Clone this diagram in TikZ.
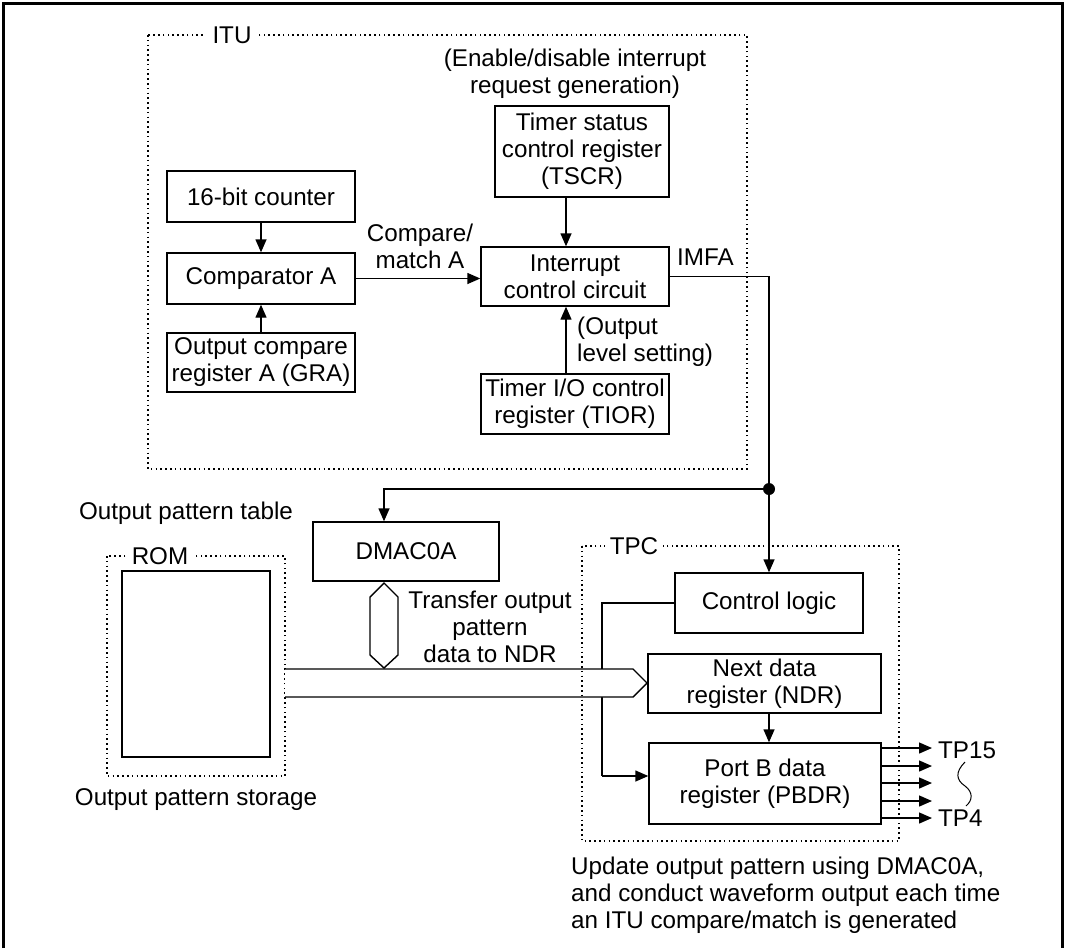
\documentclass[tikz,border=0pt]{standalone}
\usepackage{fontspec}
\setmainfont{Liberation Sans}
\usetikzlibrary{arrows.meta}
\begin{document}
\begin{tikzpicture}[x=1pt,y=-1pt,
  every node/.style={font=\fontsize{24.2}{27}\selectfont, inner sep=0pt},
  box/.style={draw, line width=1.4pt, align=center, fill=white},
  dotbox/.style={draw, line width=1.4pt, dash pattern=on 1.6pt off 3.2pt},
  lbl/.style={fill=white, inner xsep=5pt},
  conn/.style={line width=1.4pt},
  arr/.style={conn, -{Triangle[length=13pt,width=11pt]}},
  txt/.style={align=center}]
\useasboundingbox (0,0) rectangle (1065,948);
% outer frame
\draw[line width=3pt] (3,948) -- (3,3) -- (1062,3) -- (1062,948);

% ITU region
\draw[dotbox] (148,35) rectangle (747,469);
\node[lbl, inner xsep=8pt] (itul) at (232,35) {ITU};
\node[txt] (entxt) at (575,73.5) {(Enable/disable interrupt\\request generation)};
\node[box, minimum width=174pt, minimum height=91pt] (tscr) at (582,151.5) {Timer status\\control register\\(TSCR)};
\node[box, minimum width=188pt, minimum height=51pt] (cnt) at (261,196.5) {16-bit counter};
\node[box, minimum width=188pt, minimum height=51pt] (cmp) at (261,278.5) {Comparator A};
\node[box, minimum width=188pt, minimum height=59pt] (gra) at (261,362.5) {Output compare\\register A (GRA)};
\node[box, minimum width=188pt, minimum height=59pt] (icc) at (575,276.5) {Interrupt\\control circuit};
\node[box, minimum width=188pt, minimum height=60pt] (tior) at (575,404) {Timer I/O control\\register (TIOR)};
\node[txt] (cmtxt) at (420,246) {Compare/\\match A};
\node[anchor=west] (imfa) at (677,257) {IMFA};
\node[anchor=west, align=left] (oltxt) at (577,341.5) {(Output\\level setting)};

\coordinate (ax) at (566,0);
\draw[arr] (cnt.south) -- (cmp.north);
\draw[arr] (gra.north) -- (cmp.south);
\draw[arr] (cmp.east) -- (cmp.east -| icc.west);
\draw[arr] (tscr.south -| ax) -- (icc.north -| ax);
\draw[arr] (tior.north -| ax) -- (icc.south -| ax);

% junction
\coordinate (jn) at (769,489);
\coordinate (dx) at (384,489);
\draw[conn] (icc.east) -| (jn);
\fill (jn) circle (6pt);

% DMAC and ROM
\node (optab) at (186,513) {Output pattern table};
\node[box, minimum width=186pt, minimum height=59pt] (dmac) at (406,551.5) {DMAC0A};
\draw[arr] (jn) -- (dx) -- (dmac.north -| dx);
\draw[dotbox] (107,556) rectangle (285,776);
\node[lbl] (roml) at (160,556) {ROM};
\draw[line width=1.4pt] (122,571) rectangle (270,757);
\node (opst) at (196,800) {Output pattern storage};
\node[txt] (trtxt) at (490,627) {Transfer output\\pattern\\data to NDR};

% TPC region
\node[box, minimum width=188pt, minimum height=60pt] (ctl) at (769,603) {Control logic};
\draw[arr] (jn) -- (ctl.north);
\coordinate (c1) at (602,611);
\coordinate (c2) at (602,776);
\draw[conn] (ctl.west) -- (ctl.west -| c1) -- (c2);
% bus arrows
\draw[line width=1.4pt, fill=white] (285,669) -- (633,669) -- (647,683) -- (633,697) -- (285,697);
\draw[line width=1.4pt, fill=white] (384,583) -- (398,597) -- (398,655) -- (384,668) -- (370,655) -- (370,597) -- cycle;
\node[box, minimum width=233pt, minimum height=59pt] (ndr) at (764.5,683.5) {Next data\\register (NDR)};
\node[box, minimum width=232pt, minimum height=81pt] (pbdr) at (765,783.5) {Port B data\\register (PBDR)};
\draw[arr] (c2) -- (c2 -| pbdr.west);
\draw[arr] (ndr.south -| jn) -- (pbdr.north -| jn);
\draw[dotbox] (582,546) rectangle (899,841);
\node[lbl] (tpcl) at (634,546) {TPC};

% outputs
\foreach \yy/\nm in {748/o1,766/o2,783/o3,801/o4,818/o5}{
  \coordinate (\nm) at (932,\yy);
  \draw[arr] (pbdr.east |- \nm) -- (\nm);
}
\node[anchor=west] (tp15) at (938,750) {TP15};
\node[anchor=west] (tp4) at (938,818) {TP4};
\draw[line width=1pt] (965,762) .. controls (955,772) and (956,780) .. (965,786) .. controls (973,792) and (973,800) .. (966,806);

\node[anchor=west, align=left] (bottxt) at (571,895) {Update output pattern using DMAC0A,\\and conduct waveform output each time\\an ITU compare/match is generated};
\end{tikzpicture}
\end{document}
